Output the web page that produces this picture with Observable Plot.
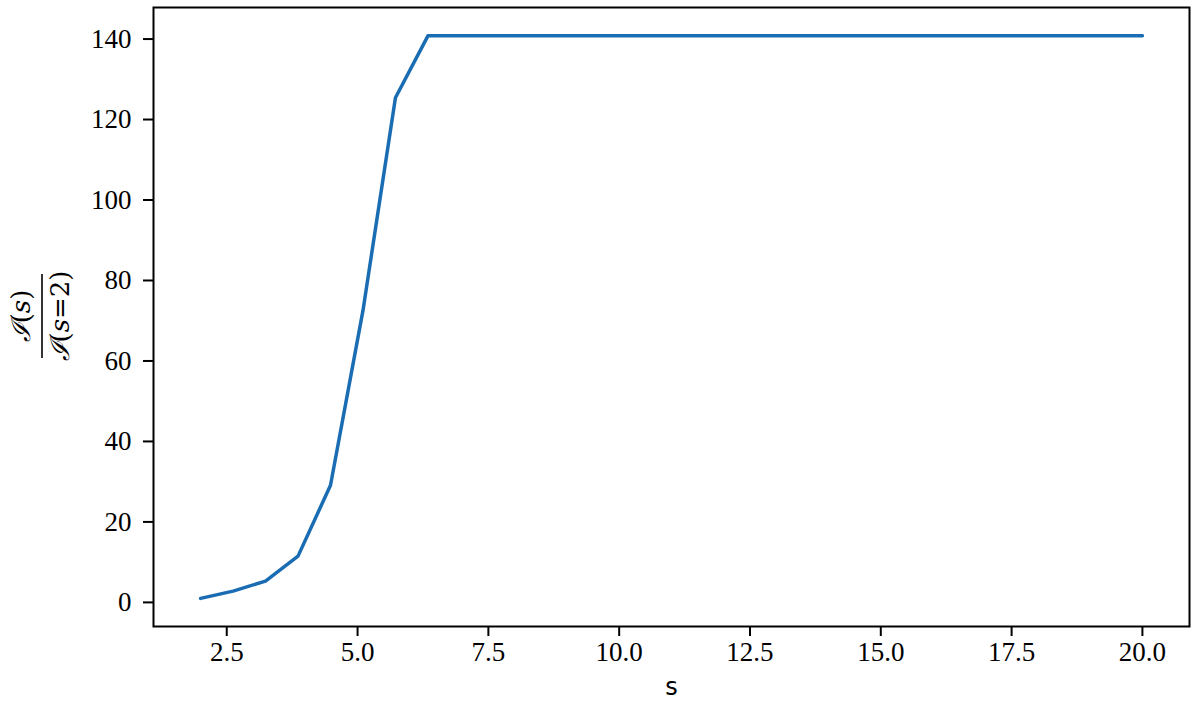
<!DOCTYPE html>
<html>
<head>
<meta charset="utf-8">
<script src="https://cdn.jsdelivr.net/npm/d3@7"></script>
<script src="https://cdn.jsdelivr.net/npm/@observablehq/plot@0.6"></script>
<style>
  html, body { margin: 0; padding: 0; background: white; }
  #chart svg { display: block; }
</style>
</head>
<body>
<div id="chart"></div>
<script>
// s values (30 evenly spaced samples from 2 to 20)
const sValues = [2.000, 2.621, 3.241, 3.862, 4.483, 5.103, 5.724, 6.345, 6.966, 7.586,
                 8.207, 8.828, 9.448, 10.069, 10.690, 11.310, 11.931, 12.552, 13.172, 13.793,
                 14.414, 15.034, 15.655, 16.276, 16.897, 17.517, 18.138, 18.759, 19.379, 20.000];
// ratio I(s)/I(s=2)
const ratioValues = [1.0, 2.8, 5.3, 11.5, 29.1, 72.5, 125.4, 140.8, 140.8, 140.8,
                     140.8, 140.8, 140.8, 140.8, 140.8, 140.8, 140.8, 140.8, 140.8, 140.8,
                     140.8, 140.8, 140.8, 140.8, 140.8, 140.8, 140.8, 140.8, 140.8, 140.8];
const xTicks = [2.5, 5.0, 7.5, 10.0, 12.5, 15.0, 17.5, 20.0];
const yTicks = [0, 20, 40, 60, 80, 100, 120, 140];
const xLabel = "s";

const data = sValues.map((s, i) => ({s, r: ratioValues[i]}));

const serif = "'Liberation Serif', 'DejaVu Serif', serif";

const chart = Plot.plot({
  width: 1200,
  height: 701,
  marginLeft: 153,
  marginRight: 11,
  marginTop: 7,
  marginBottom: 75,
  style: {background: "white", fontFamily: serif, fontSize: "27px", color: "black"},
  x: {domain: [1.1, 20.9]},
  y: {domain: [-5.99, 147.84]},
  marks: [
    Plot.axisX({ticks: xTicks, tickFormat: d => d.toFixed(1), tickSize: 10, tickPadding: 5,
                strokeWidth: 2, stroke: "black", fill: "black", fontSize: 27, fontFamily: serif, label: null}),
    Plot.axisY({ticks: yTicks, tickFormat: d => String(d), tickSize: 10, tickPadding: 12,
                strokeWidth: 2, stroke: "black", fill: "black", fontSize: 27, fontFamily: serif, label: null}),
    Plot.line(data, {x: "s", y: "r", stroke: "#1a6db3", strokeWidth: 3.5, strokeLinejoin: "round"}),
    Plot.frame({stroke: "black", strokeWidth: 2}),
    Plot.text([xLabel], {frameAnchor: "bottom", dy: 61, lineAnchor: "middle", fontSize: 24,
                         fontFamily: "'DejaVu Sans', sans-serif", fill: "black"})
  ]
});

document.getElementById("chart").appendChild(chart);

// y-axis label as a rotated fraction  I(s) / I(s=2)
const svg = d3.select(chart);
const g = svg.append("g")
  .attr("transform", "translate(0,316) rotate(-90)")
  .attr("font-family", "'DejaVu Serif', serif")
  .attr("font-size", 26)
  .attr("fill", "black");
const num = g.append("text").attr("x", 0).attr("y", 23)
  .attr("text-anchor", "middle").attr("dominant-baseline", "middle");
num.append("tspan").attr("font-style", "italic").text("ℐ");
num.append("tspan").text("(");
num.append("tspan").attr("font-style", "italic").text("s");
num.append("tspan").text(")");
g.append("line").attr("x1", -42).attr("x2", 42).attr("y1", 42).attr("y2", 42)
  .attr("stroke", "black").attr("stroke-width", 1.6);
const den = g.append("text").attr("x", 0).attr("y", 62)
  .attr("text-anchor", "middle").attr("dominant-baseline", "middle");
den.append("tspan").attr("font-style", "italic").text("ℐ");
den.append("tspan").text("(");
den.append("tspan").attr("font-style", "italic").text("s");
den.append("tspan").text("=2)");
</script>
</body>
</html>
